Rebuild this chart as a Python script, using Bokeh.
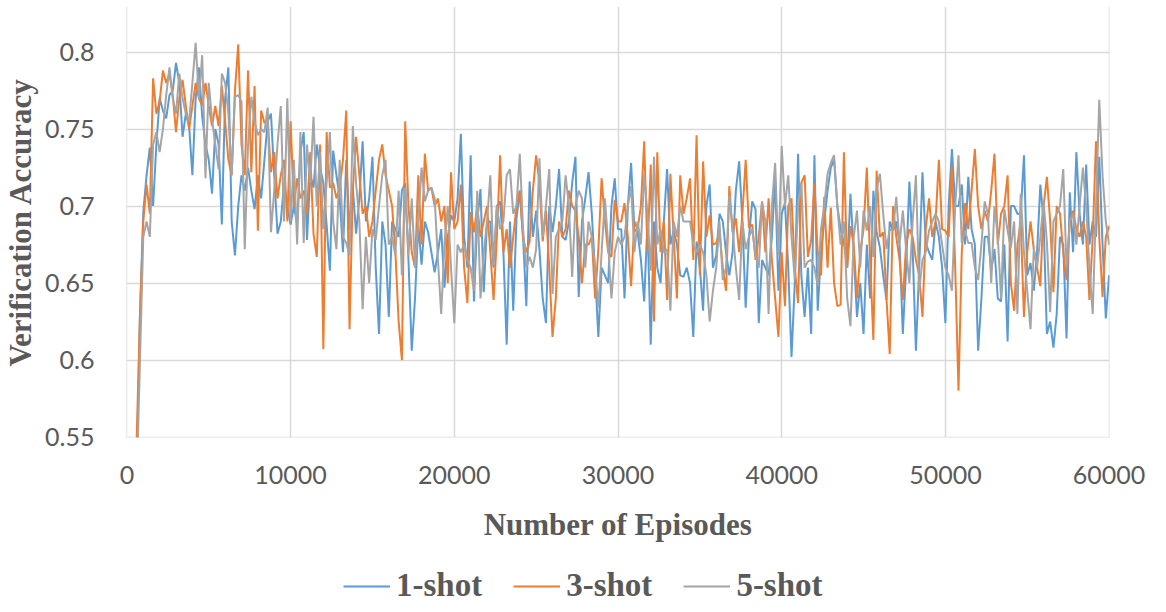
from bokeh.plotting import figure
from bokeh.layouts import column
from bokeh.models import FixedTicker, NumeralTickFormatter, Legend, LegendItem, Range1d
from bokeh.embed import file_html
from bokeh.resources import INLINE

# ---------------- data ----------------
episode_start = 600
episode_step = 200

acc_1shot = [
    # 600 .. 10000
    0.53, 0.63, 0.696, 0.72, 0.738, 0.70, 0.74, 0.77, 0.762, 0.757, 0.772, 0.775, 0.793, 0.78, 0.745, 0.76,
    0.752, 0.72, 0.77, 0.79, 0.758, 0.74, 0.73, 0.708, 0.75, 0.74, 0.688, 0.77, 0.79, 0.69, 0.668, 0.70,
    0.72, 0.71, 0.725, 0.71, 0.698, 0.72, 0.705, 0.73, 0.755, 0.76, 0.72, 0.682, 0.69, 0.715, 0.70, 0.688,
    # 10200 .. 20000
    0.70, 0.688, 0.735, 0.748, 0.678, 0.72, 0.712, 0.74, 0.725, 0.715, 0.688, 0.658, 0.736, 0.72, 0.705, 0.67,
    0.73, 0.685, 0.712, 0.682, 0.705, 0.742, 0.69, 0.705, 0.732, 0.66, 0.617, 0.69, 0.675, 0.628, 0.69, 0.685,
    0.68, 0.71, 0.715, 0.665, 0.606, 0.64, 0.688, 0.662, 0.69, 0.683, 0.67, 0.657, 0.67, 0.685, 0.647, 0.68,
    0.694, 0.69,
    # 20200 .. 30000
    0.705, 0.747, 0.68, 0.66, 0.733, 0.638, 0.69, 0.711, 0.644, 0.69, 0.69, 0.66, 0.70, 0.703, 0.67, 0.61,
    0.69, 0.632, 0.692, 0.71, 0.68, 0.635, 0.716, 0.68, 0.697, 0.672, 0.64, 0.624, 0.70, 0.683, 0.70, 0.724,
    0.68, 0.678, 0.69, 0.715, 0.732, 0.641, 0.69, 0.705, 0.722, 0.695, 0.657, 0.615, 0.66, 0.655, 0.65, 0.70,
    0.718, 0.685,
    # 30200 .. 40000
    0.685, 0.64, 0.70, 0.728, 0.685, 0.683, 0.665, 0.638, 0.69, 0.61, 0.69, 0.66, 0.65, 0.69, 0.724, 0.675,
    0.684, 0.675, 0.655, 0.654, 0.66, 0.65, 0.615, 0.677, 0.66, 0.632, 0.70, 0.714, 0.66, 0.668, 0.695, 0.69,
    0.67, 0.655, 0.67, 0.71, 0.729, 0.69, 0.634, 0.68, 0.703, 0.698, 0.624, 0.665, 0.66, 0.655, 0.68, 0.718,
    0.645, 0.695,
    # 40200 .. 50000
    0.702, 0.66, 0.602, 0.65, 0.734, 0.655, 0.628, 0.66, 0.617, 0.733, 0.632, 0.67, 0.69, 0.71, 0.725, 0.73,
    0.70, 0.685, 0.676, 0.66, 0.708, 0.67, 0.628, 0.65, 0.617, 0.675, 0.64, 0.71, 0.683, 0.673, 0.655, 0.639,
    0.69, 0.684, 0.69, 0.675, 0.617, 0.66, 0.716, 0.672, 0.606, 0.66, 0.722, 0.676, 0.67, 0.665, 0.69, 0.68,
    0.66, 0.624,
    # 50200 .. 60000
    0.70, 0.737, 0.70, 0.70, 0.714, 0.675, 0.719, 0.685, 0.675, 0.606, 0.64, 0.68, 0.68, 0.658, 0.672, 0.64,
    0.638, 0.675, 0.612, 0.70, 0.70, 0.695, 0.695, 0.733, 0.655, 0.663, 0.645, 0.67, 0.714, 0.69, 0.617, 0.625,
    0.608, 0.63, 0.68, 0.675, 0.614, 0.709, 0.67, 0.735, 0.695, 0.675, 0.727, 0.675, 0.69, 0.68, 0.732, 0.675,
    0.627, 0.655,
]

acc_3shot = [
    # 600 .. 10000
    0.55, 0.63, 0.69, 0.714, 0.695, 0.783, 0.76, 0.768, 0.788, 0.78, 0.786, 0.772, 0.748, 0.77, 0.782, 0.765,
    0.75, 0.765, 0.78, 0.77, 0.765, 0.78, 0.765, 0.752, 0.765, 0.752, 0.778, 0.755, 0.73, 0.72, 0.775, 0.805,
    0.74, 0.72, 0.788, 0.722, 0.778, 0.684, 0.762, 0.754, 0.755, 0.722, 0.735, 0.705, 0.72, 0.73, 0.69, 0.755,
    # 10200 .. 20000
    0.70, 0.718, 0.705, 0.71, 0.695, 0.735, 0.682, 0.667, 0.74, 0.607, 0.748, 0.712, 0.715, 0.705, 0.712, 0.73,
    0.762, 0.62, 0.71, 0.745, 0.72, 0.695, 0.70, 0.68, 0.69, 0.71, 0.73, 0.74, 0.72, 0.71, 0.70, 0.67,
    0.625, 0.60, 0.755, 0.70, 0.67, 0.66, 0.72, 0.675, 0.734, 0.71, 0.712, 0.70, 0.705, 0.69, 0.70, 0.65,
    0.722, 0.685,
    # 20200 .. 30000
    0.69, 0.714, 0.66, 0.637, 0.696, 0.683, 0.70, 0.68, 0.69, 0.70, 0.67, 0.639, 0.68, 0.733, 0.67, 0.685,
    0.66, 0.68, 0.70, 0.71, 0.679, 0.67, 0.677, 0.71, 0.733, 0.715, 0.677, 0.697, 0.66, 0.615, 0.64, 0.69,
    0.68, 0.685, 0.71, 0.70, 0.697, 0.68, 0.65, 0.675, 0.675, 0.68, 0.64, 0.672, 0.718, 0.69, 0.67, 0.667,
    0.704, 0.69,
    # 30200 .. 40000
    0.69, 0.702, 0.68, 0.648, 0.69, 0.685, 0.70, 0.742, 0.67, 0.727, 0.625, 0.735, 0.67, 0.69, 0.639, 0.721,
    0.68, 0.64, 0.72, 0.695, 0.705, 0.718, 0.665, 0.746, 0.655, 0.729, 0.68, 0.694, 0.675, 0.676, 0.683, 0.66,
    0.645, 0.713, 0.683, 0.692, 0.67, 0.695, 0.73, 0.686, 0.688, 0.665, 0.68, 0.703, 0.67, 0.705, 0.665, 0.64,
    0.615, 0.67,
    # 40200 .. 50000
    0.635, 0.70, 0.705, 0.66, 0.637, 0.715, 0.72, 0.667, 0.678, 0.715, 0.67, 0.655, 0.706, 0.66, 0.699, 0.65,
    0.635, 0.636, 0.735, 0.66, 0.687, 0.675, 0.64, 0.67, 0.685, 0.725, 0.665, 0.613, 0.723, 0.68, 0.683, 0.64,
    0.604, 0.70, 0.68, 0.665, 0.639, 0.675, 0.685, 0.68, 0.665, 0.655, 0.628, 0.685, 0.705, 0.68, 0.69, 0.73,
    0.685, 0.684,
    # 50200 .. 60000
    0.68, 0.726, 0.66, 0.58, 0.67, 0.702, 0.685, 0.71, 0.737, 0.70, 0.685, 0.697, 0.69, 0.71, 0.734, 0.675,
    0.695, 0.70, 0.72, 0.65, 0.632, 0.675, 0.69, 0.628, 0.67, 0.69, 0.672, 0.66, 0.648, 0.70, 0.719, 0.69,
    0.644, 0.70, 0.695, 0.67, 0.652, 0.69, 0.697, 0.685, 0.68, 0.69, 0.68, 0.639, 0.68, 0.742, 0.68, 0.641,
    0.68, 0.687,
]

acc_5shot = [
    # 600 .. 10000
    0.52, 0.60, 0.68, 0.69, 0.68, 0.74, 0.748, 0.735, 0.75, 0.772, 0.79, 0.77, 0.76, 0.786, 0.77, 0.76,
    0.755, 0.78, 0.806, 0.77, 0.798, 0.718, 0.78, 0.756, 0.74, 0.724, 0.786, 0.78, 0.76, 0.72, 0.771, 0.772,
    0.768, 0.672, 0.74, 0.771, 0.755, 0.746, 0.75, 0.748, 0.764, 0.683, 0.71, 0.74, 0.765, 0.69, 0.77, 0.69,
    # 10200 .. 20000
    0.73, 0.675, 0.748, 0.676, 0.74, 0.715, 0.758, 0.70, 0.735, 0.685, 0.715, 0.748, 0.69, 0.672, 0.73, 0.68,
    0.676, 0.668, 0.752, 0.715, 0.69, 0.633, 0.68, 0.65, 0.685, 0.678, 0.70, 0.72, 0.73, 0.675, 0.68, 0.668,
    0.71, 0.655, 0.712, 0.668, 0.705, 0.66, 0.69, 0.725, 0.703, 0.71, 0.712, 0.705, 0.665, 0.63, 0.675, 0.70,
    0.66, 0.624,
    # 20200 .. 30000
    0.675, 0.67, 0.675, 0.665, 0.66, 0.645, 0.71, 0.64, 0.67, 0.69, 0.72, 0.662, 0.70, 0.685, 0.69, 0.72,
    0.724, 0.695, 0.70, 0.734, 0.685, 0.66, 0.667, 0.66, 0.672, 0.731, 0.68, 0.70, 0.724, 0.643, 0.68, 0.685,
    0.69, 0.72, 0.70, 0.654, 0.70, 0.71, 0.705, 0.66, 0.69, 0.68, 0.66, 0.634, 0.67, 0.705, 0.675, 0.64,
    0.67, 0.68,
    # 30200 .. 40000
    0.675, 0.68, 0.70, 0.713, 0.67, 0.69, 0.675, 0.721, 0.695, 0.658, 0.732, 0.675, 0.685, 0.67, 0.672, 0.632,
    0.69, 0.68, 0.70, 0.69, 0.69, 0.69, 0.675, 0.67, 0.675, 0.67, 0.655, 0.625, 0.645, 0.66, 0.69, 0.652,
    0.66, 0.707, 0.685, 0.66, 0.639, 0.69, 0.672, 0.68, 0.685, 0.668, 0.66, 0.703, 0.69, 0.63, 0.70, 0.728,
    0.668, 0.739,
    # 40200 .. 50000
    0.70, 0.72, 0.68, 0.652, 0.70, 0.715, 0.66, 0.664, 0.665, 0.66, 0.648, 0.685, 0.70, 0.721, 0.728, 0.733,
    0.70, 0.675, 0.69, 0.64, 0.622, 0.68, 0.697, 0.66, 0.697, 0.684, 0.70, 0.667, 0.711, 0.721, 0.695, 0.672,
    0.685, 0.684, 0.706, 0.675, 0.697, 0.672, 0.65, 0.69, 0.72, 0.645, 0.665, 0.67, 0.684, 0.69, 0.695, 0.69,
    0.675, 0.66,
    # 50200 .. 60000
    0.655, 0.645, 0.70, 0.733, 0.676, 0.684, 0.676, 0.676, 0.66, 0.652, 0.675, 0.703, 0.695, 0.65, 0.70, 0.68,
    0.64, 0.698, 0.684, 0.673, 0.69, 0.63, 0.708, 0.67, 0.645, 0.62, 0.672, 0.66, 0.68, 0.703, 0.677, 0.631,
    0.69, 0.695, 0.70, 0.724, 0.66, 0.69, 0.695, 0.675, 0.70, 0.725, 0.70, 0.66, 0.63, 0.70, 0.769, 0.72,
    0.69, 0.675,
]

series_names = ["1-shot", "3-shot", "5-shot"]
series_colors = ["#5B9BD5", "#ED7D31", "#A5A5A5"]
x_ticks = [0, 10000, 20000, 30000, 40000, 50000, 60000]
y_ticks = [0.55, 0.6, 0.65, 0.7, 0.75, 0.8]
x_title = "Number of Episodes"
y_title = "Verification Accuracy"

# ---------------- main figure ----------------
TEXT = "#595959"
GRID = "#D9D9D9"

p = figure(width=1150, height=550, output_backend="svg", toolbar_location=None,
           x_range=Range1d(-25, 60025), y_range=Range1d(0.5497, 0.8296),
           min_border_left=119, min_border_right=41, min_border_top=6, min_border_bottom=113)
p.outline_line_color = None
p.background_fill_color = "white"

for vals, name, col in zip([acc_1shot, acc_3shot, acc_5shot], series_names, series_colors):
    xs = [episode_start + episode_step * i for i in range(len(vals))]
    p.line(xs, vals, line_color=col, line_width=2)

p.xaxis.ticker = FixedTicker(ticks=x_ticks)
p.yaxis.ticker = FixedTicker(ticks=y_ticks)
p.xaxis.formatter = NumeralTickFormatter(format="0")
p.yaxis.formatter = NumeralTickFormatter(format="0.0[0]")
p.xgrid.ticker = FixedTicker(ticks=x_ticks)
p.ygrid.ticker = FixedTicker(ticks=y_ticks)
for g in (p.xgrid, p.ygrid):
    g.grid_line_color = GRID
    g.grid_line_width = 1.5

for ax in (p.xaxis, p.yaxis):
    ax.axis_line_color = None
    ax.major_tick_line_color = None
    ax.minor_tick_line_color = None
    ax.major_label_text_font = "Lato"
    ax.major_label_text_font_size = "25px"
    ax.major_label_text_color = TEXT
    ax.axis_label_text_font = "Liberation Serif"
    ax.axis_label_text_font_style = "bold"
    ax.axis_label_text_font_size = "31px"
    ax.axis_label_text_color = TEXT

p.xaxis.axis_label = x_title
p.yaxis.axis_label = y_title
p.yaxis.major_label_standoff = 26
p.xaxis.major_label_standoff = 22
p.yaxis.axis_label_standoff = 4
p.xaxis.axis_label_standoff = 20

# ---------------- legend strip ----------------
leg = figure(width=1150, height=54, output_backend="svg", toolbar_location=None,
             x_range=Range1d(0, 1), y_range=Range1d(0, 1),
             x_axis_type=None, y_axis_type=None, min_border=0)
leg.outline_line_color = None
leg.xgrid.visible = False
leg.ygrid.visible = False
items = []
for name, col in zip(series_names, series_colors):
    # off-range stub lines: only their legend swatches are visible
    r = leg.line([-5, -4], [-5, -5], line_color=col, line_width=2)
    items.append(LegendItem(label=name, renderers=[r]))

legend = Legend(items=items, orientation="horizontal", location=(217, 0))
legend.glyph_width = 47
legend.glyph_height = 20
legend.label_standoff = 6
legend.spacing = 31
legend.padding = 0
legend.margin = 0
legend.border_line_color = None
legend.background_fill_alpha = 0
legend.label_text_font = "Liberation Serif"
legend.label_text_font_style = "bold"
legend.label_text_font_size = "33px"
legend.label_text_color = TEXT
leg.add_layout(legend)

layout = column(p, leg, spacing=0)
open("out.html", "w").write(file_html(layout, INLINE))
